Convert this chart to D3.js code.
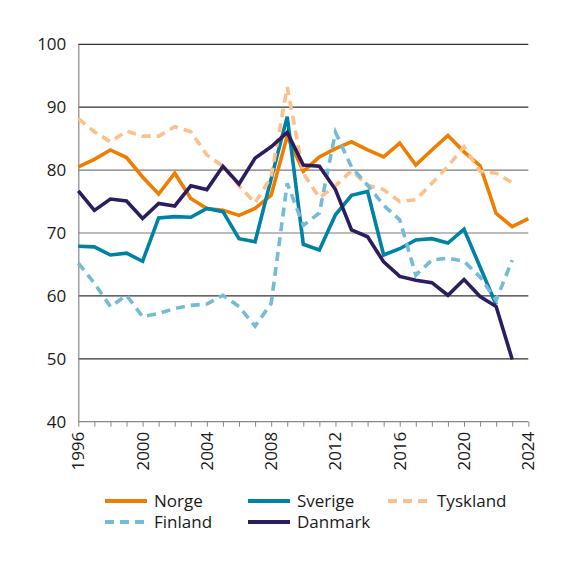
<!DOCTYPE html>
<html>
<head>
<meta charset="utf-8">
<script src="https://cdn.jsdelivr.net/npm/d3@7"></script>
<style>
  body { margin: 0; background: #fff; }
  text { font-family: "Open Sans", "Noto Sans", sans-serif; fill: #1a1a1a; }
</style>
</head>
<body>
<svg id="chart" width="576" height="568"></svg>
<script>
// år og verdier lest av figuren
const years = d3.range(1996, 2025);
const norge = [80.5, 81.7, 83.2, 82.0, 78.9, 76.2, 79.5, 75.5, 73.9, 73.6, 72.8, 73.9, 76.0, 85.4,
  79.8, 82.1, 83.4, 84.5, 83.2, 82.1, 84.3, 80.8, 83.2, 85.5, 82.9, 80.7, 73.1, 71.0, 72.3];
const sverige = [67.9, 67.8, 66.5, 66.8, 65.5, 72.4, 72.6, 72.5, 73.9, 73.4, 69.1, 68.6, 78.6, 88.5,
  68.2, 67.3, 72.9, 76.0, 76.6, 66.5, 67.5, 68.9, 69.1, 68.4, 70.6, 64.6, 58.6, null, null];
const tyskland = [88.2, 86.1, 84.5, 86.2, 85.4, 85.4, 86.9, 86.1, 82.4, 80.6, 77.5, 74.8, 78.9, 93.2,
  79.5, 75.6, 77.5, 79.9, 77.6, 76.9, 75.0, 75.3, 77.9, 80.6, 83.7, 79.8, 79.5, 78.0, null];
const finland = [65.2, 62.0, 58.3, 60.1, 56.7, 57.2, 58.0, 58.5, 58.7, 60.1, 58.3, 55.2, 58.8, 77.9,
  71.2, 73.2, 86.0, 80.5, 77.6, 74.4, 72.1, 63.3, 65.7, 66.0, 65.5, 63.0, 59.3, 65.7, null];
const danmark = [76.7, 73.6, 75.4, 75.1, 72.3, 74.7, 74.3, 77.5, 76.9, 80.6, 77.8, 81.9, 83.7, 86.0,
  80.8, 80.6, 76.9, 70.5, 69.4, 65.4, 63.1, 62.5, 62.1, 60.1, 62.6, 59.9, 58.3, 49.9, null];
const yTicks = [40, 50, 60, 70, 80, 90, 100];
const xTicks = [1996, 2000, 2004, 2008, 2012, 2016, 2020, 2024];

const series = [
  {name: 'Norge', values: norge, color: '#ef7d00', dash: null},
  {name: 'Sverige', values: sverige, color: '#0082a5', dash: null},
  {name: 'Tyskland', values: tyskland, color: '#fdc08b', dash: '9,6'},
  {name: 'Finland', values: finland, color: '#74bbd9', dash: '9,6'},
  {name: 'Danmark', values: danmark, color: '#2c1d5e', dash: null}
];

const svg = d3.select('#chart');
const x = d3.scaleLinear().domain([1996, 2024]).range([78.3, 528.3]);
const y = d3.scaleLinear().domain([40, 100]).range([421.7, 44.3]);

// rutenett
svg.append('g')
  .selectAll('line')
  .data(yTicks.filter(d => d > 40))
  .enter()
  .append('line')
  .attr('x1', x(1996)).attr('x2', x(2024))
  .attr('y1', d => y(d)).attr('y2', d => y(d))
  .attr('stroke', d => (d === 70 || d === 80) ? '#7a7a7a' : '#333')
  .attr('stroke-width', 1.2);

// y-akse
svg.append('g')
  .attr('transform', `translate(${x(1996)},0)`)
  .call(d3.axisLeft(y).tickValues(yTicks).tickSize(0).tickPadding(12))
  .call(g => g.select('.domain').attr('stroke', '#888').attr('stroke-width', 1.2))
  .call(g => g.selectAll('text').attr('font-size', 17).attr('fill', '#1a1a1a')
    .style('font-family', '"Open Sans", sans-serif'));

// x-akse
svg.append('g')
  .attr('transform', `translate(0,${y(40)})`)
  .call(d3.axisBottom(x).tickValues(years).tickSize(5).tickFormat(''))
  .call(g => g.select('.domain').attr('stroke', '#888').attr('stroke-width', 1.2).attr('d', `M${x(1996)},0H${x(2024)}`))
  .call(g => g.selectAll('.tick line').attr('stroke', '#888'));

svg.append('g')
  .selectAll('text')
  .data(xTicks)
  .enter()
  .append('text')
  .attr('transform', d => `translate(${x(d) + 6},${y(40) + 10}) rotate(-90)`)
  .attr('text-anchor', 'end')
  .attr('font-size', 17)
  .text(d => d);

// linjer
const line = d3.line()
  .defined(d => d[1] != null)
  .x(d => x(d[0]))
  .y(d => y(d[1]));

svg.append('g')
  .selectAll('path')
  .data(series)
  .enter()
  .append('path')
  .attr('d', s => line(years.map((yr, i) => [yr, s.values[i]])))
  .attr('fill', 'none')
  .attr('stroke', s => s.color)
  .attr('stroke-width', 3.6)
  .attr('stroke-linejoin', 'miter')
  .attr('stroke-dasharray', s => s.dash);

// tegnforklaring
const legendPos = [
  {name: 'Norge', lx: 105, ly: 501},
  {name: 'Sverige', lx: 248, ly: 501},
  {name: 'Tyskland', lx: 388, ly: 501},
  {name: 'Finland', lx: 105, ly: 522},
  {name: 'Danmark', lx: 248, ly: 522}
];
const legend = svg.append('g')
  .selectAll('g')
  .data(legendPos)
  .enter()
  .append('g')
  .attr('transform', d => `translate(${d.lx},${d.ly})`);
legend.append('line')
  .attr('x1', 0).attr('x2', 42)
  .attr('stroke', d => series.find(s => s.name === d.name).color)
  .attr('stroke-width', 4)
  .attr('stroke-dasharray', d => series.find(s => s.name === d.name).dash);
legend.append('text')
  .attr('x', 49)
  .attr('y', 6)
  .attr('font-size', 17)
  .text(d => d.name);
</script>
</body>
</html>
